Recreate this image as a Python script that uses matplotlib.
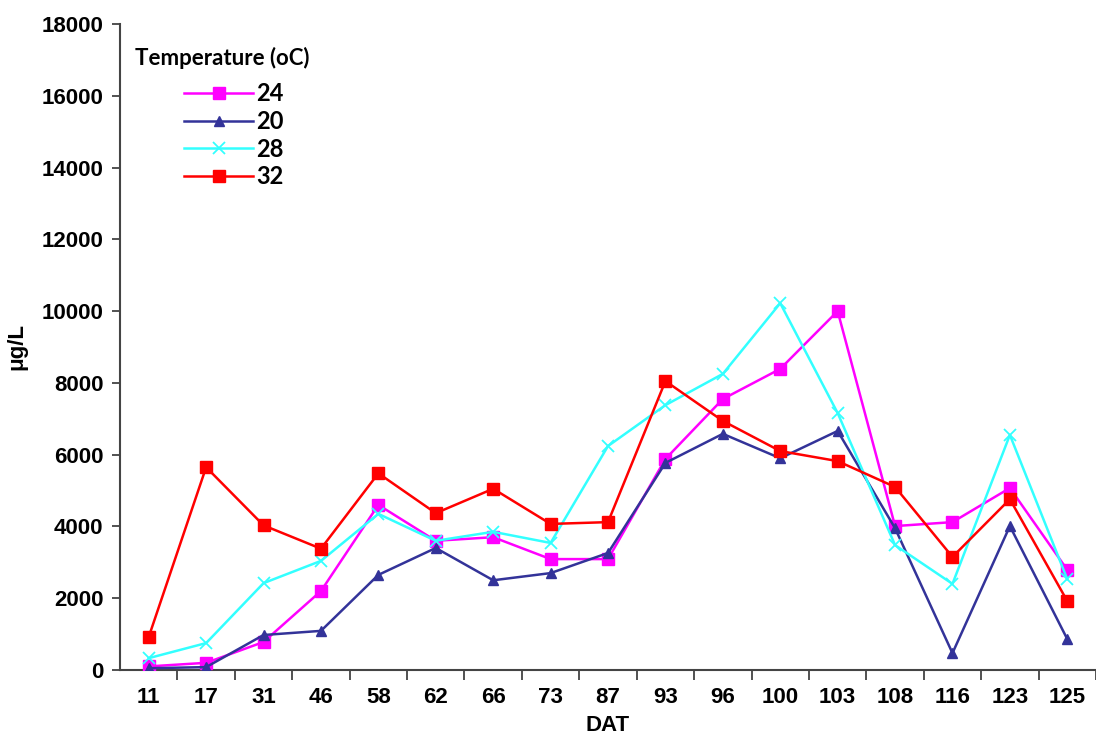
import matplotlib
matplotlib.use("Agg")
import matplotlib.pyplot as plt
from matplotlib.ticker import MultipleLocator, FixedLocator

dat = ['11', '17', '31', '46', '58', '62', '66', '73', '87', '93', '96', '100', '103', '108', '116', '123', '125']

t24 = [100, 200, 780, 2200, 4600, 3600, 3700, 3090, 3090, 5880, 7550, 8390, 10000, 4010, 4120, 5070, 2790]
t20 = [50, 80, 975, 1090, 2650, 3400, 2500, 2700, 3260, 5770, 6580, 5900, 6660, 3950, 470, 4010, 860]
t28 = [330, 750, 2420, 3040, 4350, 3600, 3850, 3540, 6240, 7380, 8250, 10220, 7160, 3480, 2400, 6550, 2530]
t32 = [920, 5650, 4030, 3380, 5480, 4370, 5050, 4070, 4120, 8050, 6940, 6100, 5820, 5100, 3150, 4760, 1920]

plt.rcParams['font.family'] = ['Liberation Sans', 'DejaVu Sans']

fig = plt.figure(figsize=(10.96, 7.40), dpi=100)
ax = fig.add_axes([0.1095, 0.0946, 0.8905, 0.873])

x = list(range(len(dat)))
ax.plot(x, t24, color='#ff00ff', marker='s', markersize=8.5, linewidth=1.8, label='24', zorder=3)
ax.plot(x, t20, color='#333399', marker='^', markersize=7, linewidth=1.8, label='20', zorder=3)
ax.plot(x, t28, color='#33ffff', marker='x', markersize=9, markeredgewidth=1.3, linewidth=1.8, label='28', zorder=3)
ax.plot(x, t32, color='#ff0000', marker='s', markersize=8, linewidth=1.8, label='32', zorder=3)

ax.set_xlim(-0.5, len(dat) - 0.5)
ax.set_ylim(0, 18000)
ax.yaxis.set_major_locator(MultipleLocator(2000))
ax.set_xticks(x)
ax.set_xticklabels(dat)
ax.xaxis.set_minor_locator(FixedLocator([i + 0.5 for i in range(len(dat))]))
ax.tick_params(axis='x', which='major', length=0, pad=12)
ax.tick_params(axis='x', which='minor', length=7, width=1.2, color='#333333', direction='out')
ax.tick_params(axis='y', length=6, width=1.2, color='#333333', pad=6)
for lab in ax.get_xticklabels() + ax.get_yticklabels():
    lab.set_fontsize(16)
    lab.set_fontweight('bold')

for s in ['top', 'right']:
    ax.spines[s].set_visible(False)
for s in ['left', 'bottom']:
    ax.spines[s].set_color('#444444')
    ax.spines[s].set_linewidth(1.5)

ax.set_xlabel('DAT', fontsize=16, fontweight='bold', labelpad=5)
ax.set_ylabel('μg/L', fontsize=16, fontweight='bold', labelpad=10)

ax.text(0.015, 0.947, 'Temperature (oC)', transform=ax.transAxes, fontsize=16,
        fontweight='bold', family=['Lato', 'DejaVu Sans'], va='center', ha='left')
leg = ax.legend(loc='upper left', bbox_to_anchor=(0.066, 0.91), frameon=False,
                handlelength=2.9, handletextpad=0.15, labelspacing=0.2,
                borderpad=0, borderaxespad=0,
                prop={'family': ['Lato', 'DejaVu Sans'], 'size': 17, 'weight': 'bold'})

fig.savefig('out.png', dpi=100)
